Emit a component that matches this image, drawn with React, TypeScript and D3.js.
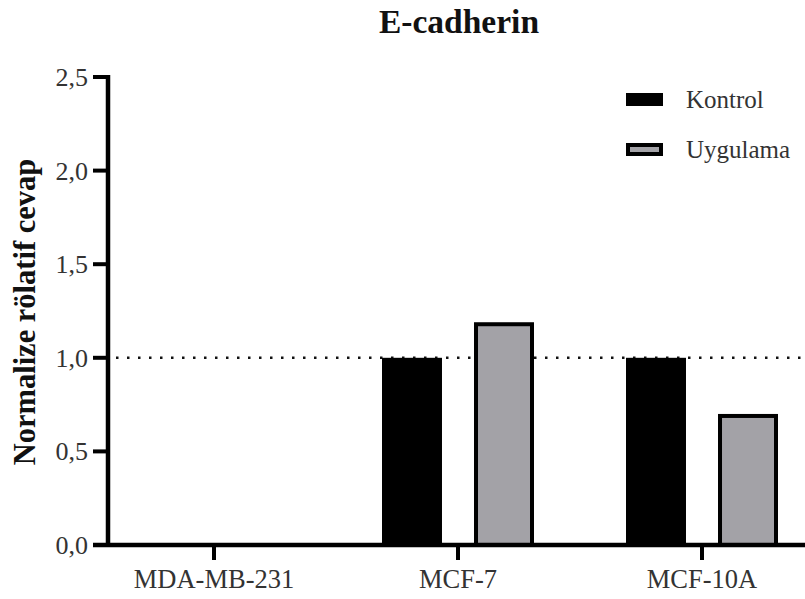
import React from "react";
import * as d3 from "d3";

const categories = ["MDA-MB-231", "MCF-7", "MCF-10A"];
const seriesNames = ["Kontrol", "Uygulama"];
const kontrolValues: (number | null)[] = [null, 1.0, 1.0];
const uygulamaValues: (number | null)[] = [null, 1.19, 0.7];
const yTicks = [0, 0.5, 1.0, 1.5, 2.0, 2.5];
const referenceValue = 1.0;
const title = "E-cadherin";
const yLabel = "Normalize rölatif cevap";

const W = 805;
const H = 599;
const FONT = "'Liberation Serif', 'Times New Roman', serif";
const fills = ["#000000", "#a3a2a7"];

export default function App() {
  const y = d3.scaleLinear().domain([0, 2.5]).range([545, 77]);
  const x = d3.scaleBand<string>().domain(categories).range([92, 824]).padding(0);
  const xs = d3
    .scaleBand<string>()
    .domain(seriesNames)
    .range([0, x.bandwidth()])
    .paddingInner(0.348)
    .paddingOuter(0.5);
  const series = [kontrolValues, uygulamaValues];
  const sw = 4;
  const axisX = 108;
  const fmt = (v: number) => d3.format(".1f")(v).replace(".", ",");

  return (
    <svg
      width={W}
      height={H}
      style={{ position: "absolute", left: 0, top: 0, background: "#fff" }}
      fontFamily={FONT}
    >
      <rect x={0} y={0} width={W} height={H} fill="#fff" />
      <text x={459} y={33} textAnchor="middle" fontWeight="bold" fontSize={33.5} fill="#111">
        {title}
      </text>
      {/* reference dotted line */}
      <line
        x1={axisX + 8}
        x2={W}
        y1={y(referenceValue)}
        y2={y(referenceValue)}
        stroke="#111"
        strokeWidth={2.5}
        strokeDasharray="2.5 8.5"
      />
      {/* bars */}
      {categories.map((c, ci) =>
        seriesNames.map((s, si) => {
          const v = series[si][ci];
          if (v == null) return null;
          const x0 = (x(c) as number) + (xs(s) as number);
          return (
            <rect
              key={c + s}
              x={x0 + sw / 2}
              y={y(v) + sw / 2}
              width={xs.bandwidth() - sw}
              height={y(0) - y(v) - sw / 2}
              fill={fills[si]}
              stroke="#000"
              strokeWidth={sw}
            />
          );
        })
      )}
      {/* y axis */}
      <line x1={axisX} x2={axisX} y1={y(2.5) - 2} y2={y(0) + 2} stroke="#000" strokeWidth={4.5} />
      {yTicks.map((t) => (
        <g key={t}>
          <line x1={axisX - 15} x2={axisX} y1={y(t)} y2={y(t)} stroke="#000" strokeWidth={4} />
          <text x={88} y={y(t) + 9} textAnchor="end" fontSize={26} fill="#333">
            {fmt(t)}
          </text>
        </g>
      ))}
      {/* x axis */}
      <line x1={axisX - 15} x2={W} y1={y(0)} y2={y(0)} stroke="#000" strokeWidth={4.5} />
      {categories.map((c) => {
        const cx = (x(c) as number) + x.bandwidth() / 2;
        return (
          <g key={c}>
            <line x1={cx} x2={cx} y1={y(0)} y2={y(0) + 15} stroke="#000" strokeWidth={4} />
            <text x={cx} y={588} textAnchor="middle" fontSize={26.5} fill="#333">
              {c}
            </text>
          </g>
        );
      })}
      {/* y label */}
      <text
        transform={`translate(35,312) rotate(-90)`}
        textAnchor="middle"
        fontWeight="bold"
        fontSize={30.5}
        fill="#111"
      >
        {yLabel}
      </text>
      {/* legend */}
      {seriesNames.map((s, i) => (
        <g key={s} transform={`translate(0, ${i * 50})`}>
          <rect
            x={626 + 2}
            y={93 + 2}
            width={33}
            height={9}
            fill={fills[i]}
            stroke="#000"
            strokeWidth={4}
          />
          <text x={686} y={108} fontSize={25} fill="#333">
            {s}
          </text>
        </g>
      ))}
    </svg>
  );
}
